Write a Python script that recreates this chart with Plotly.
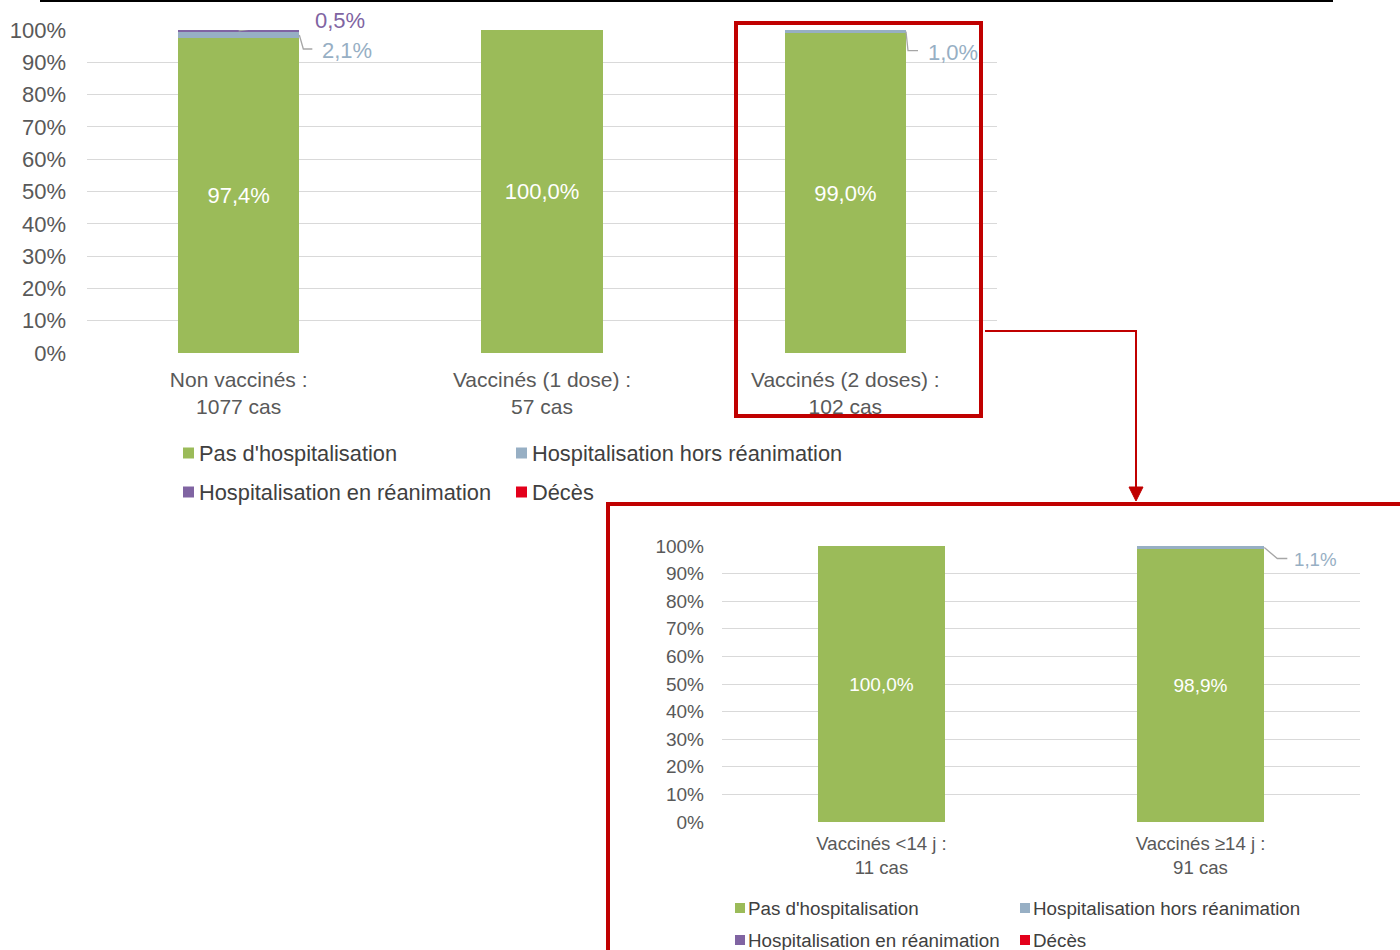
import plotly.graph_objects as go

W, H = 1400, 950
OFF = 0
def px(x): return (x - OFF) / W
def py(y): return 1 - (y - OFF) / H

# ---- data ----
top_categories = ["Non vaccinés :<br>1077 cas", "Vaccinés (1 dose) :<br>57 cas", "Vaccinés (2 doses) :<br>102 cas"]
top_pas_hosp = [97.4, 100.0, 99.0]
top_hosp_hors_rea = [2.1, 0.0, 1.0]
top_hosp_rea = [0.5, 0.0, 0.0]
top_deces = [0.0, 0.0, 0.0]

bot_categories = ["Vaccinés <14 j :<br>11 cas", "Vaccinés ≥14 j :<br>91 cas"]
bot_pas_hosp = [100.0, 98.9]
bot_hosp_hors_rea = [0.0, 1.1]
bot_hosp_rea = [0.0, 0.0]
bot_deces = [0.0, 0.0]

series_names = ["Pas d'hospitalisation", "Hospitalisation hors réanimation",
                "Hospitalisation en réanimation", "Décès"]
series_colors = ["#9BBB59", "#97AFC4", "#8064A2", "#E3001B"]
y_ticks = [0, 10, 20, 30, 40, 50, 60, 70, 80, 90, 100]
y_ticktext = [f"{v}%" for v in y_ticks]

FONT = "Liberation Sans, Arial, sans-serif"
TXT = "#595959"

def fmt(v):
    return f"{v:.1f}".replace(".", ",") + "%"

fig = go.Figure()

def add_stack(xaxis, yaxis, cats, series, fsize):
    xs = list(range(len(cats)))
    for i, (vals, name, col) in enumerate(zip(series, series_names, series_colors)):
        fig.add_trace(go.Bar(
            x=xs, y=vals, name=name, marker=dict(color=col, line=dict(width=0)),
            width=0.4, xaxis=xaxis, yaxis=yaxis, showlegend=False,
            text=[fmt(v) for v in vals] if i == 0 else None,
            textposition="inside" if i == 0 else "none",
            insidetextanchor="middle", textangle=0,
            textfont=dict(color="white", size=fsize, family=FONT),
            hoverinfo="skip",
        ))

add_stack("x", "y", top_categories, [top_pas_hosp, top_hosp_hors_rea, top_hosp_rea, top_deces], 22)
add_stack("x2", "y2", bot_categories, [bot_pas_hosp, bot_hosp_hors_rea, bot_hosp_rea, bot_deces], 19)

grid = "#D9D9D9"
fig.update_layout(
    width=W, height=H, margin=dict(l=0, r=0, t=0, b=0, pad=0, autoexpand=False),
    paper_bgcolor="white", plot_bgcolor="white",
    barmode="stack", font=dict(family=FONT, color=TXT),
    xaxis=dict(domain=[px(87), px(997)], range=[-0.5, 2.5],
               tickvals=list(range(len(top_categories))), ticktext=top_categories,
               showgrid=False, zeroline=False, showline=False, ticks="", automargin=False,
               tickfont=dict(size=21, color=TXT), anchor="y", ticklabelstandoff=12),
    yaxis=dict(domain=[py(353), py(30)], range=[0, 100], tickvals=y_ticks, ticktext=y_ticktext,
               showgrid=True, gridcolor=grid, gridwidth=1, zeroline=False, showline=False, automargin=False,
               tickfont=dict(size=22, color=TXT), anchor="x", ticklabelstandoff=20),
    xaxis2=dict(domain=[px(722), px(1360)], range=[-0.5, 1.5],
                tickvals=list(range(len(bot_categories))), ticktext=bot_categories,
                showgrid=False, zeroline=False, showline=False, ticks="", automargin=False,
                tickfont=dict(size=18.6, color=TXT), anchor="y2", ticklabelstandoff=8),
    yaxis2=dict(domain=[py(822), py(546)], range=[0, 100], tickvals=y_ticks, ticktext=y_ticktext,
                showgrid=True, gridcolor=grid, gridwidth=1, zeroline=False, showline=False, automargin=False,
                tickfont=dict(size=19, color=TXT), anchor="x2", ticklabelstandoff=17),
)

shapes = []
annotations = []
LEAD = "#A6A6A6"

def leader(xref, yref, xa, ya, path, text, color, xs, ys, size):
    shapes.append(dict(type="path", xref=xref, yref=yref, xsizemode="pixel", ysizemode="pixel",
                       xanchor=xa, yanchor=ya, path=path, line=dict(color=LEAD, width=1.3)))
    annotations.append(dict(xref=xref, yref=yref, x=xa, y=ya, xanchor="left", yanchor="middle",
                            xshift=xs, yshift=ys, text=text, showarrow=False,
                            font=dict(size=size, color=color, family=FONT)))

# top chart leader labels
b0 = top_pas_hosp[0]; h0 = top_hosp_hors_rea[0]; r0 = top_hosp_rea[0]
leader("x", "y", 0, b0 + h0 + r0 / 2, "M0,0 L61,9 L66,9", fmt(r0), series_colors[2], 74, 10, 22)
leader("x", "y", 0.2, b0 + h0 / 2, "M0,0 L4,-14 L13,-14", fmt(h0), series_colors[1], 21, -15, 22)
b2 = top_pas_hosp[2]; h2 = top_hosp_hors_rea[2]
leader("x", "y", 2.2, b2 + h2 / 2, "M0,0 L2,-19 L12,-19", fmt(h2), series_colors[1], 20, -21, 22)
# bottom chart leader label
bb = bot_pas_hosp[1]; bh = bot_hosp_hors_rea[1]
leader("x2", "y2", 1.2, bb + bh / 2, "M0,0 L13,-11 L23,-11", fmt(bh), series_colors[1], 28, -12, 18.7)

# legends
def legend(x_cols, y_rows, sq, size, text_dx):
    k = 0
    for yr in y_rows:
        for xc in x_cols:
            shapes.append(dict(type="rect", xref="paper", yref="paper",
                               x0=px(xc), x1=px(xc + sq), y0=py(yr + sq / 2), y1=py(yr - sq / 2),
                               fillcolor=series_colors[k], line=dict(width=0)))
            annotations.append(dict(xref="paper", yref="paper", x=px(xc + text_dx), y=py(yr),
                                    xanchor="left", yanchor="middle", text=series_names[k],
                                    showarrow=False, font=dict(size=size, color="#404040", family=FONT)))
            k += 1

legend([183, 516], [453, 492], 11, 21.8, 14)
legend([735, 1020], [908, 940], 10, 18.8, 11)

RED = "#C00000"
# red boxes
shapes.append(dict(type="rect", xref="paper", yref="paper", x0=px(736), x1=px(981), y0=py(416), y1=py(23),
                   line=dict(color=RED, width=4)))
shapes.append(dict(type="rect", xref="paper", yref="paper", x0=px(608), x1=px(1420), y0=py(980), y1=py(504),
                   line=dict(color=RED, width=4)))
# connector arrow
shapes.append(dict(type="path", xref="paper", yref="paper",
                   path=f"M{px(985)},{py(331)} L{px(1136)},{py(331)} L{px(1136)},{py(488)}",
                   line=dict(color=RED, width=2)))
shapes.append(dict(type="path", xref="paper", yref="paper",
                   path=f"M{px(1129)},{py(487)} L{px(1143)},{py(487)} L{px(1136)},{py(501)} Z",
                   fillcolor=RED, line=dict(color=RED, width=1)))
# top rule (cut title)
shapes.append(dict(type="line", xref="paper", yref="paper", x0=px(40), x1=px(1333), y0=py(1), y1=py(1),
                   line=dict(color="black", width=2)))

fig.update_layout(shapes=shapes, annotations=annotations)
fig.write_html("out.html", config={"displayModeBar": False},
               post_script="document.body.style.margin='0';document.body.style.overflow='hidden';")
